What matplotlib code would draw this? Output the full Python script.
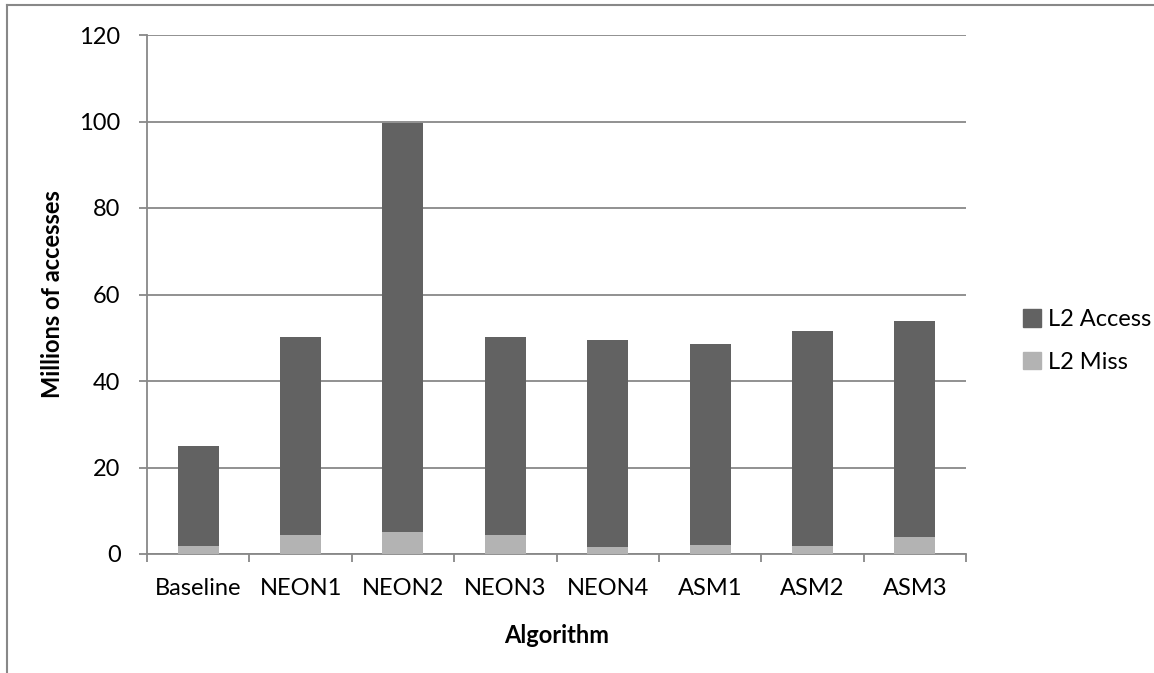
import numpy as np
import matplotlib
matplotlib.use("Agg")
import matplotlib.pyplot as plt
from matplotlib.patches import Patch
from matplotlib.lines import Line2D

algorithms = ["Baseline", "NEON1", "NEON2", "NEON3", "NEON4", "ASM1", "ASM2", "ASM3"]
l2_access = [25.0, 50.2, 99.7, 50.2, 49.5, 48.6, 51.6, 53.9]
l2_miss = [1.9, 4.5, 5.1, 4.4, 1.6, 2.0, 1.9, 4.0]
y_ticks = [0, 20, 40, 60, 80, 100, 120]

dark = "#626262"
light = "#b3b3b3"
grid_col = "#888888"

plt.rcParams["font.family"] = ["Lato", "DejaVu Sans"]

fig = plt.figure(figsize=(11.54, 6.73), dpi=100)
ax = fig.add_axes([147 / 1154, 1 - 554 / 673, 819 / 1154, 519 / 673])

x = np.arange(len(algorithms))
# Excel-style overlapped bars: total accesses behind, misses in front
ax.bar(x, l2_access, width=0.4, color=dark, zorder=3, label="L2 Access")
ax.bar(x, l2_miss, width=0.4, color=light, zorder=4, label="L2 Miss")

ax.set_xlim(-0.5, len(algorithms) - 0.5)
ax.set_ylim(0, 120)
ax.set_yticks(y_ticks)
ax.set_xticks(x)
ax.set_xticklabels(algorithms, fontsize=17)
ax.set_xticks(np.arange(len(algorithms) + 1) - 0.5, minor=True)
ax.tick_params(axis="x", which="major", length=0, pad=17)
ax.tick_params(axis="x", which="minor", length=6, width=1.3, color=grid_col, direction="out")
ax.tick_params(axis="y", length=6, width=1.3, color=grid_col, labelsize=17, pad=13)

ax.yaxis.grid(True, color=grid_col, linewidth=1.3, zorder=0)
ax.set_axisbelow(True)
for s in ["top", "right"]:
    ax.spines[s].set_visible(False)
for s in ["left", "bottom"]:
    ax.spines[s].set_color(grid_col)
    ax.spines[s].set_linewidth(1.3)

ax.set_xlabel("Algorithm", fontsize=17, fontweight="bold", labelpad=18)
ax.set_ylabel("Millions of accesses", fontsize=17, fontweight="bold", labelpad=11)

handles = [Patch(color=dark), Patch(color=light)]
fig.legend(handles, ["L2 Access", "L2 Miss"], loc="center left",
           bbox_to_anchor=(1002 / 1154, 1 - 341 / 673), frameon=False,
           fontsize=17, handlelength=0.75, handleheight=0.75,
           handletextpad=0.3, labelspacing=0.9)

# chart area border (left and top edges visible)
fig.add_artist(Line2D([7 / 1154, 7 / 1154], [0, 1 - 5 / 673], transform=fig.transFigure,
                      color=grid_col, linewidth=1.5))
fig.add_artist(Line2D([7 / 1154, 1], [1 - 5 / 673, 1 - 5 / 673], transform=fig.transFigure,
                      color=grid_col, linewidth=1.5))

fig.savefig("out.png", dpi=100)
